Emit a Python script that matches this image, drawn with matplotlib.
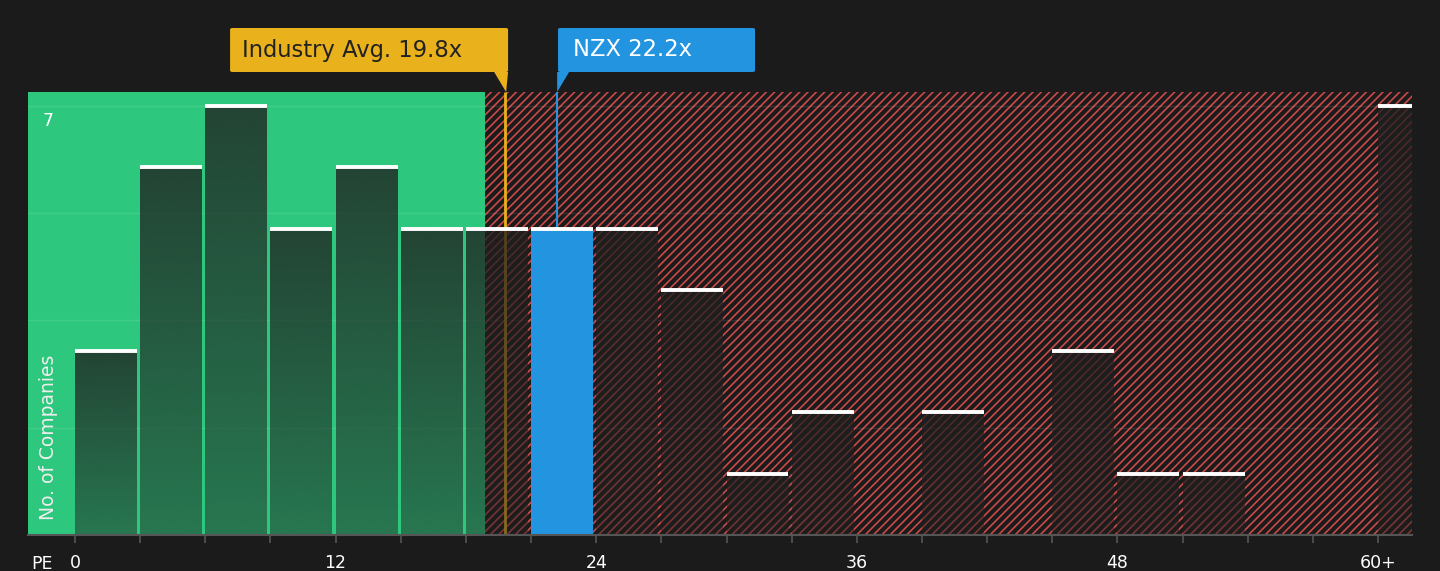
import numpy as np
import matplotlib
matplotlib.use("Agg")
import matplotlib.pyplot as plt
from matplotlib.patches import Polygon, FancyBboxPatch
from matplotlib.transforms import blended_transform_factory

# histogram of PE ratios, bins of width 3, last bin is 60+
bin_edges = [0, 3, 6, 9, 12, 15, 18, 21, 24, 27, 30, 33, 36, 39, 42, 45, 48, 51, 54, 57, 60]
counts = [3, 6, 7, 5, 6, 5, 5, 5, 5, 4, 1, 2, 0, 2, 0, 3, 1, 1, 0, 0, 7]
tick_vals = [0, 12, 24, 36, 48, 60]
tick_labels = ["0", "12", "24", "36", "48", "60+"]
industry_avg = 19.8
company_pe = 22.2
company_name = "NZX"
fair_limit = 18.9

BG = "#1b1b1b"
GREEN = "#2ec77e"
RED = "#cc4a4a"
YELLOW = "#e9b11c"
BLUE = "#2294e0"

plt.rcParams["hatch.linewidth"] = 1.2
plt.rcParams["font.family"] = ["DejaVu Sans"]

fig = plt.figure(figsize=(14.4, 5.71), dpi=100, facecolor=BG)
ax = fig.add_axes([28 / 1440, 36 / 571, 1384 / 1440, 443 / 571])
ax.set_facecolor(BG)

xmin, xmax = -2.164, 61.56
ymax = 7.228
px_y = 61.29  # pixels per company

# green "fair" zone and red hatched zone
ax.axvspan(xmin, fair_limit, color=GREEN, lw=0, zorder=0)
ax.axvspan(fair_limit, xmax, facecolor="none", edgecolor=RED, hatch="////", lw=0, zorder=0)

# gridlines
for g in [1.75, 3.5, 5.25, 7.0]:
    ax.axhline(g, color="white", alpha=0.09, lw=1, zorder=1)

# reference lines
ax.vlines(industry_avg, 0, ymax, color=YELLOW, lw=2, zorder=2, clip_on=False)
ax.vlines(company_pe, 5, ymax, color=BLUE, lw=1.5, zorder=2, clip_on=False)

# bars with vertical alpha gradient
bar_w = 2.85
grad = np.linspace(0.78, 0.48, 64)
for left, c in zip(bin_edges, counts):
    if c == 0:
        continue
    if left <= company_pe < left + 3:
        ax.bar(left, c, width=bar_w, align="edge", color=BLUE, lw=0, zorder=3)
    else:
        img = np.zeros((64, 1, 4))
        img[:, 0, 0] = 32 / 255
        img[:, 0, 1] = 31 / 255
        img[:, 0, 2] = 31 / 255
        img[:, 0, 3] = grad
        ax.imshow(img, extent=[left, left + bar_w, 0, c], aspect="auto",
                  interpolation="bilinear", zorder=3)
    ax.hlines(c, left, left + bar_w, color="white", lw=2.8, zorder=4)

ax.set_xlim(xmin, xmax)
ax.set_ylim(0, ymax)

# axes styling
for s in ["left", "right", "top"]:
    ax.spines[s].set_visible(False)
ax.spines["bottom"].set_color("#555555")
ax.spines["bottom"].set_linewidth(1.5)
ax.spines["bottom"].set_zorder(5)
ax.set_xticks(bin_edges, minor=True)
ax.set_xticks(tick_vals)
ax.set_xticklabels(tick_labels)
ax.tick_params(axis="x", which="both", length=6, width=1.2, color="#555555",
               labelcolor="white", labelsize=12.5, pad=8)
ax.set_yticks([])

ax.text(-1.52, -29 / px_y, "PE", color="white", fontsize=12.5,
        ha="center", va="center", clip_on=False)

ax.text(-1.243, 6.9, "7", color="white", fontsize=12.5, ha="center", va="top", zorder=6)
ax.text(-1.243, 0.245, "No. of Companies", color="#eeeeee", fontsize=13.5,
        rotation=90, ha="center", va="bottom", zorder=6)

# label boxes above the plot
tr = blended_transform_factory(ax.transData, fig.transFigure)
y_bot = (571 - 72) / 571
y_top = (571 - 28) / 571
y_ax = (571 - 92) / 571

box1 = FancyBboxPatch((industry_avg - 12.66, y_bot), 12.80, y_top - y_bot,
                      boxstyle="round,pad=0,rounding_size=0.12", transform=tr,
                      facecolor=YELLOW, edgecolor="none", clip_on=False,
                      mutation_aspect=0.02)
fig.patches.append(box1)
fig.patches.append(Polygon([(industry_avg - 0.5, y_bot), (industry_avg + 0.14, y_bot),
                            (industry_avg + 0.05, y_ax)], closed=True, transform=tr,
                           facecolor=YELLOW, edgecolor="none"))
fig.text(industry_avg - 12.1, (y_bot + y_top) / 2, f"Industry Avg. {industry_avg}x",
         transform=tr, color="#222222", fontsize=16.3, ha="left", va="center")

box2 = FancyBboxPatch((company_pe + 0.04, y_bot), 9.07, y_top - y_bot,
                      boxstyle="round,pad=0,rounding_size=0.12", transform=tr,
                      facecolor=BLUE, edgecolor="none", clip_on=False,
                      mutation_aspect=0.02)
fig.patches.append(box2)
fig.patches.append(Polygon([(company_pe, y_bot), (company_pe + 0.55, y_bot),
                            (company_pe, y_ax)], closed=True, transform=tr,
                           facecolor=BLUE, edgecolor="none"))
fig.text(company_pe + 0.75, (y_bot + y_top) / 2, f"{company_name} {company_pe}x",
         transform=tr, color="white", fontsize=16.3, ha="left", va="center")

fig.savefig("out.png", dpi=100, facecolor=BG)
